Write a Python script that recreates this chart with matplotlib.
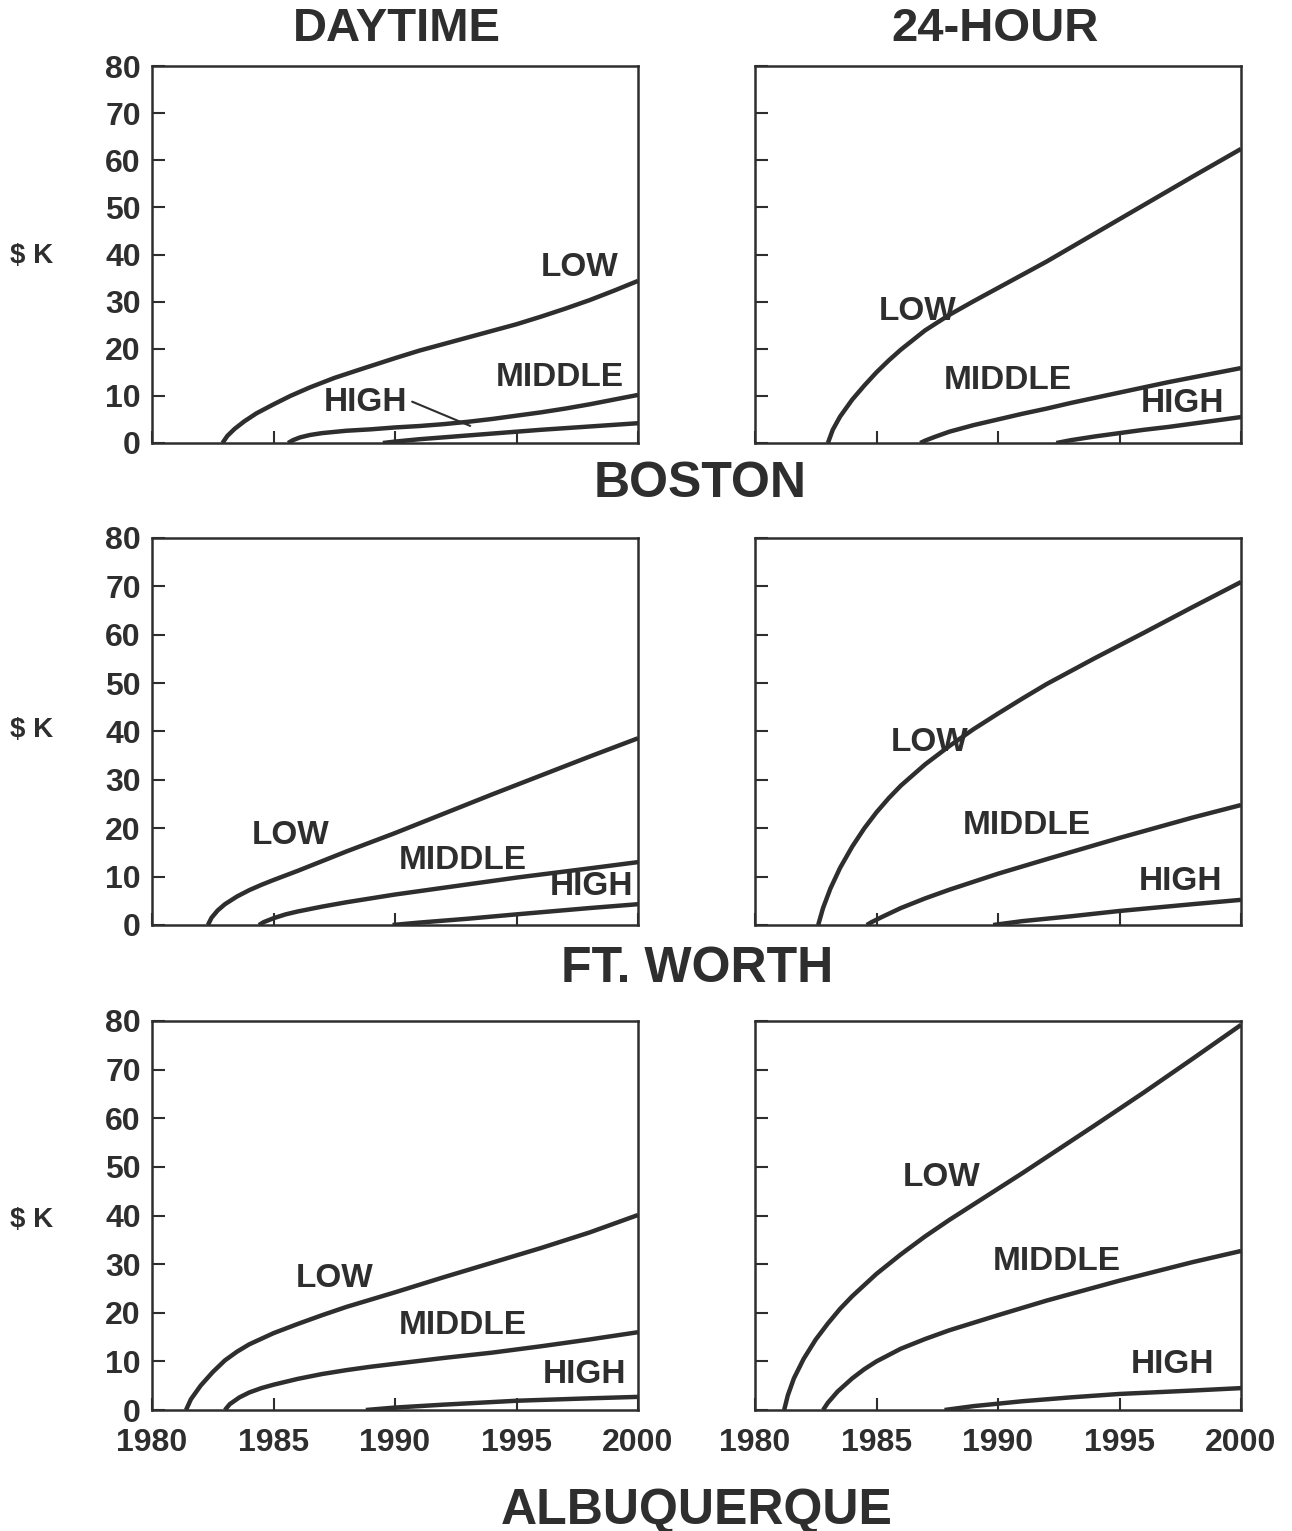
import matplotlib
matplotlib.use("Agg")
import matplotlib.pyplot as plt

plt.rcParams['font.family'] = ['Liberation Sans', 'DejaVu Sans']
plt.rcParams['font.weight'] = 'bold'

INK = "#2e2e2e"

years = [1980, 1985, 1990, 1995, 2000]
dollars = [0, 10, 20, 30, 40, 50, 60, 70, 80]

# ---- Boston ----
bos_day_low_x = [1982.9, 1983.1, 1983.4, 1983.8, 1984.3, 1985, 1985.7, 1986.5, 1987.5, 1988.5, 1990, 1991, 1992, 1993, 1994, 1995, 1996, 1997, 1998, 1999, 2000]
bos_day_low_y = [0, 1.5, 3.0, 4.6, 6.3, 8.2, 10.0, 11.8, 13.8, 15.5, 18.0, 19.6, 21.0, 22.4, 23.8, 25.2, 26.8, 28.5, 30.3, 32.3, 34.4]
bos_day_mid_x = [1985.6, 1985.8, 1986.1, 1986.5, 1987, 1988, 1989, 1990, 1991, 1992, 1993, 1994, 1995, 1996, 1997, 1998, 1999, 2000]
bos_day_mid_y = [0, 0.6, 1.2, 1.7, 2.1, 2.6, 2.9, 3.3, 3.6, 4.0, 4.5, 5.1, 5.8, 6.5, 7.3, 8.2, 9.2, 10.2]
bos_day_high_x = [1989.5, 1990, 1991, 1992, 1993, 1994, 1995, 1996, 1998, 2000]
bos_day_high_y = [0, 0.3, 0.8, 1.2, 1.6, 2.0, 2.4, 2.8, 3.5, 4.2]

bos_24_low_x = [1983.0, 1983.2, 1983.5, 1984, 1984.5, 1985, 1985.5, 1986, 1987, 1988, 1989, 1990, 1991, 1992, 1994, 1996, 1998, 2000]
bos_24_low_y = [0, 2.8, 5.6, 9.2, 12.2, 15.0, 17.5, 19.8, 23.9, 27.2, 30.1, 32.9, 35.7, 38.5, 44.5, 50.5, 56.5, 62.4]
bos_24_mid_x = [1986.8, 1987, 1987.4, 1988, 1989, 1990, 1991, 1992, 1993, 1995, 1997, 1998, 2000]
bos_24_mid_y = [0, 0.5, 1.3, 2.4, 3.8, 5.0, 6.2, 7.3, 8.5, 10.7, 12.9, 13.9, 15.9]
bos_24_high_x = [1992.4, 1993, 1994, 1995, 1996, 1997, 1998, 2000]
bos_24_high_y = [0, 0.6, 1.4, 2.1, 2.8, 3.4, 4.1, 5.5]

# ---- Ft. Worth ----
ftw_day_low_x = [1982.3, 1982.45, 1982.7, 1983, 1983.5, 1984, 1984.5, 1985, 1986, 1987, 1988, 1990, 1992, 1994, 1996, 1998, 2000]
ftw_day_low_y = [0, 1.5, 3.0, 4.3, 5.9, 7.2, 8.3, 9.3, 11.2, 13.2, 15.2, 19.0, 23.0, 27.0, 30.9, 34.8, 38.6]
ftw_day_mid_x = [1984.4, 1984.6, 1985, 1985.5, 1986, 1987, 1988, 1989, 1990, 1992, 1995, 1998, 2000]
ftw_day_mid_y = [0, 0.6, 1.4, 2.2, 2.8, 3.8, 4.7, 5.5, 6.3, 7.7, 9.8, 11.7, 13.0]
ftw_day_high_x = [1989.9, 1991, 1993, 1995, 1998, 2000]
ftw_day_high_y = [0, 0.5, 1.3, 2.2, 3.5, 4.3]

ftw_24_low_x = [1982.6, 1982.8, 1983.1, 1983.5, 1984, 1984.5, 1985, 1985.5, 1986, 1987, 1988, 1989, 1990, 1991, 1992, 1994, 1996, 1998, 2000]
ftw_24_low_y = [0, 3.5, 7.5, 11.8, 16.2, 20.0, 23.3, 26.2, 28.8, 33.2, 37.0, 40.5, 43.7, 46.8, 49.8, 55.2, 60.4, 65.7, 70.9]
ftw_24_mid_x = [1984.6, 1984.8, 1985.2, 1986, 1987, 1988, 1990, 1992, 1995, 1998, 2000]
ftw_24_mid_y = [0, 0.6, 1.6, 3.5, 5.5, 7.3, 10.6, 13.6, 18.0, 22.2, 24.8]
ftw_24_high_x = [1989.8, 1991, 1993, 1995, 1998, 2000]
ftw_24_high_y = [0, 0.8, 1.8, 2.9, 4.3, 5.2]

# ---- Albuquerque ----
abq_day_low_x = [1981.4, 1981.6, 1982, 1982.5, 1983, 1983.5, 1984, 1985, 1986, 1987, 1988, 1989, 1990, 1992, 1994, 1996, 1998, 2000]
abq_day_low_y = [0, 2.2, 5.0, 7.8, 10.2, 12.0, 13.5, 15.8, 17.7, 19.5, 21.2, 22.7, 24.2, 27.3, 30.3, 33.3, 36.5, 40.1]
abq_day_mid_x = [1983.0, 1983.2, 1983.6, 1984, 1984.5, 1985, 1986, 1987, 1988, 1989, 1990, 1992, 1994, 1996, 1998, 2000]
abq_day_mid_y = [0, 1.2, 2.6, 3.6, 4.5, 5.2, 6.4, 7.4, 8.2, 8.9, 9.5, 10.7, 11.8, 13.1, 14.5, 16.0]
abq_day_high_x = [1988.8, 1990, 1992, 1995, 1998, 2000]
abq_day_high_y = [0, 0.5, 1.1, 1.9, 2.4, 2.7]

abq_24_low_x = [1981.2, 1981.35, 1981.6, 1982, 1982.5, 1983, 1983.5, 1984, 1985, 1986, 1987, 1988, 1989, 1990, 1991, 1992, 1994, 1996, 1998, 2000]
abq_24_low_y = [0, 3.0, 6.5, 10.5, 14.5, 17.8, 20.8, 23.4, 28.0, 32.0, 35.7, 39.1, 42.3, 45.5, 48.7, 52.0, 58.6, 65.3, 72.2, 79.2]
abq_24_mid_x = [1982.8, 1983.0, 1983.4, 1984, 1984.5, 1985, 1986, 1987, 1988, 1990, 1992, 1995, 1998, 2000]
abq_24_mid_y = [0, 1.5, 3.8, 6.5, 8.4, 10.0, 12.6, 14.6, 16.4, 19.5, 22.5, 26.6, 30.4, 32.7]
abq_24_high_x = [1987.8, 1989, 1991, 1993, 1995, 1998, 2000]
abq_24_high_y = [0, 0.8, 1.8, 2.6, 3.3, 4.0, 4.5]

panels = [
    [(bos_day_low_x, bos_day_low_y), (bos_day_mid_x, bos_day_mid_y), (bos_day_high_x, bos_day_high_y)],
    [(bos_24_low_x, bos_24_low_y), (bos_24_mid_x, bos_24_mid_y), (bos_24_high_x, bos_24_high_y)],
    [(ftw_day_low_x, ftw_day_low_y), (ftw_day_mid_x, ftw_day_mid_y), (ftw_day_high_x, ftw_day_high_y)],
    [(ftw_24_low_x, ftw_24_low_y), (ftw_24_mid_x, ftw_24_mid_y), (ftw_24_high_x, ftw_24_high_y)],
    [(abq_day_low_x, abq_day_low_y), (abq_day_mid_x, abq_day_mid_y), (abq_day_high_x, abq_day_high_y)],
    [(abq_24_low_x, abq_24_low_y), (abq_24_mid_x, abq_24_mid_y), (abq_24_high_x, abq_24_high_y)],
]

# where the LOW / MIDDLE / HIGH words sit in each panel (data coords)
label_pos = [
    [(1997.6, 37.2), (1996.8, 13.8), (1988.8, 8.5)],
    [(1986.7, 27.8), (1990.4, 13.2), (1997.6, 8.3)],
    [(1985.7, 18.4), (1992.8, 13.4), (1998.1, 7.9)],
    [(1987.2, 37.8), (1991.2, 20.5), (1997.5, 8.9)],
    [(1987.5, 27.0), (1992.8, 17.3), (1997.8, 7.2)],
    [(1987.7, 47.9), (1992.4, 30.5), (1997.2, 9.3)],
]
names = ["LOW", "MIDDLE", "HIGH"]

W, H = 1292, 1531
fig = plt.figure(figsize=(W / 100, H / 100), dpi=100)

lefts = [152 / W, 755 / W]
width = 486 / W
rows = [(66, 443), (538, 925), (1021, 1410)]
sk_y = [256, 730, 1220]

for i in range(6):
    r, c = divmod(i, 2)
    top, bot = rows[r]
    ax = fig.add_axes([lefts[c], 1 - bot / H, width, (bot - top) / H])
    for (xs, ys) in panels[i]:
        ax.plot(xs, ys, color=INK, lw=3.2, solid_capstyle="butt", solid_joinstyle="round")
    for name, (lx, ly) in zip(names, label_pos[i]):
        ax.text(lx, ly, name, ha="center", va="center", fontsize=24,
                fontweight="bold", color=INK)
    ax.set_xlim(1980, 2000)
    ax.set_ylim(0, 80)
    ax.set_xticks(years)
    ax.set_yticks(dollars)
    ax.tick_params(direction="in", length=9, width=1.5, color=INK,
                   labelsize=23, labelcolor=INK)
    ax.tick_params(axis="y", pad=8)
    ax.tick_params(axis="x", pad=13)
    for s in ax.spines.values():
        s.set_linewidth(1.8)
        s.set_color(INK)
    if c == 1:
        ax.set_yticklabels([])
    else:
        fig.text(32 / W, 1 - sk_y[r] / H, "$ K", ha="center", va="center",
                 fontsize=20, fontweight="bold", color=INK)
    if r < 2:
        ax.set_xticklabels([])
    if i == 0:
        # leader line from the HIGH word down to its curve
        ax.annotate("", xy=(1993.2, 3.4), xytext=(1990.6, 9.0),
                    arrowprops=dict(arrowstyle="-", color=INK, lw=1.5))

fig.text(397 / W, 1 - 41 / H, "DAYTIME", ha="center", va="baseline", fontsize=34, fontweight="bold", color=INK)
fig.text(995 / W, 1 - 41 / H, "24-HOUR", ha="center", va="baseline", fontsize=34, fontweight="bold", color=INK)
fig.text(700 / W, 1 - 497 / H, "BOSTON", ha="center", va="baseline", fontsize=36, fontweight="bold", color=INK)
fig.text(697 / W, 1 - 982 / H, "FT. WORTH", ha="center", va="baseline", fontsize=36, fontweight="bold", color=INK)
fig.text(697 / W, 1 - 1524 / H, "ALBUQUERQUE", ha="center", va="baseline", fontsize=36, fontweight="bold", color=INK)

fig.savefig("out.png", dpi=100)
